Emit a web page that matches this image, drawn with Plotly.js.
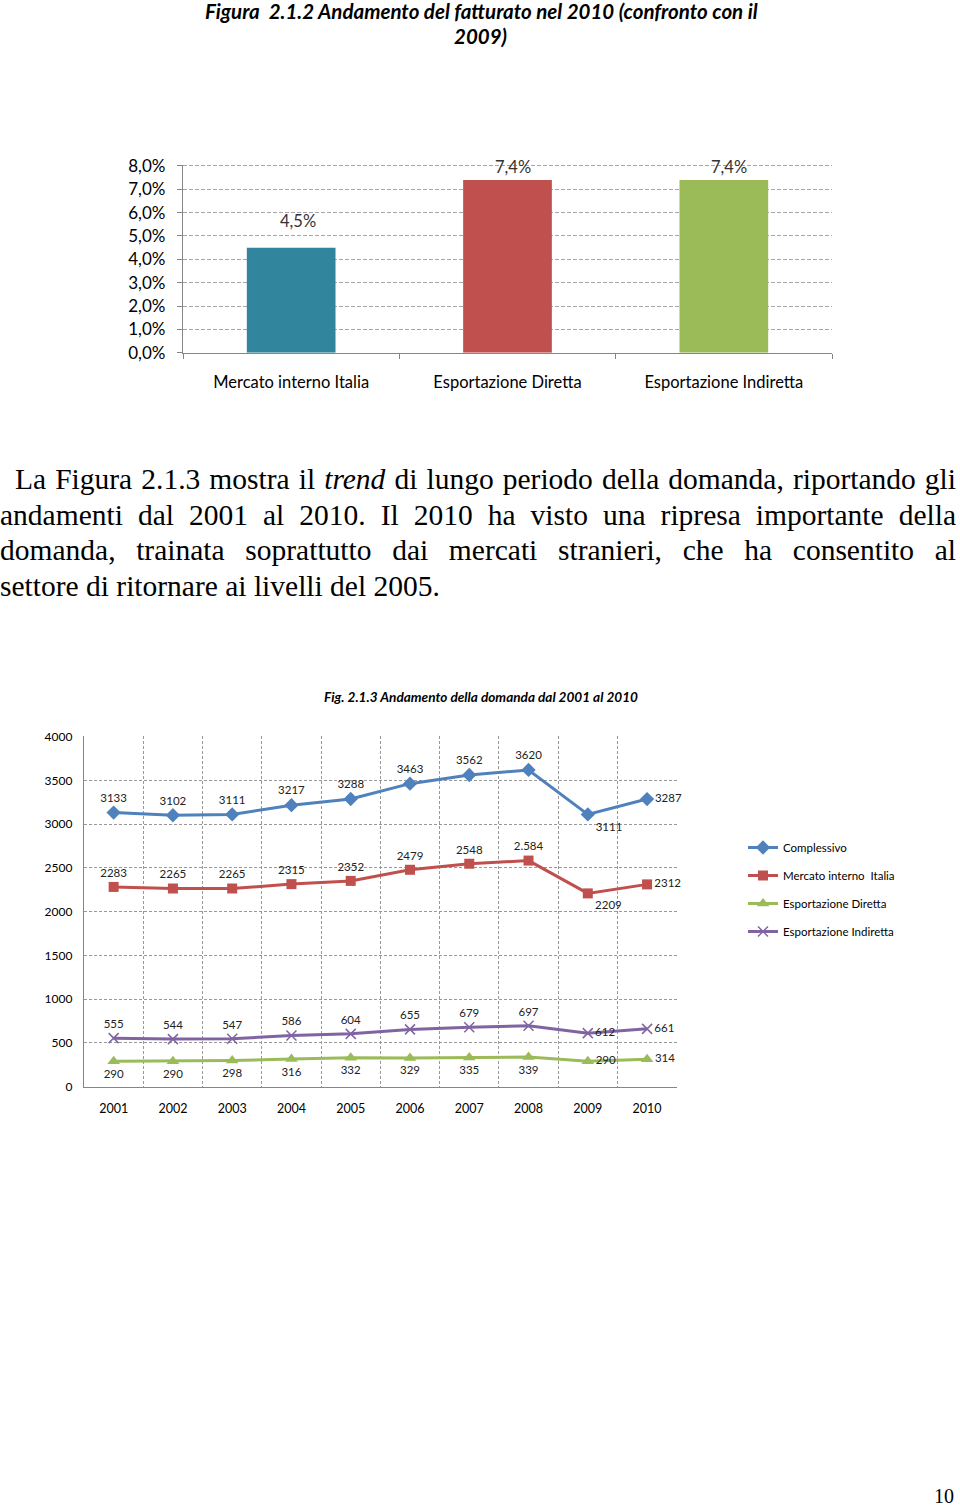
<!DOCTYPE html>
<html>
<head>
<meta charset="utf-8">
<script src="https://cdn.plot.ly/plotly-3.0.1.min.js"></script>
<style>
  html, body { margin: 0; padding: 0; background: #fff; }
  #page { position: relative; width: 960px; height: 1507px; overflow: hidden; }
  #chart { position: absolute; left: 0; top: 0; width: 960px; height: 1507px; }
  #para { position: absolute; left: 0; top: 462px; width: 956px; font-family: "Liberation Serif", serif; font-size: 29.5px; color: #000; }
  #para .ln { height: 35.5px; line-height: 35.5px; white-space: nowrap; }
  #para .ln span { display: inline-block; transform-origin: left center; }
</style>
</head>
<body>
<div id="page">
  <div id="chart"></div>
  <div id="para">
    <div class="ln" data-x="15" data-w="941" data-j="1"><span>La Figura 2.1.3 mostra il <i>trend</i> di lungo periodo della domanda, riportando gli</span></div>
    <div class="ln" data-x="0" data-w="956" data-j="1"><span>andamenti dal 2001 al 2010. Il 2010 ha visto una ripresa importante della</span></div>
    <div class="ln" data-x="0" data-w="956" data-j="1"><span>domanda, trainata soprattutto dai mercati stranieri, che ha consentito al</span></div>
    <div class="ln" data-x="0" data-w="956" data-j="0"><span>settore di ritornare ai livelli del 2005.</span></div>
  </div>
</div>
<script>
// ---------- data: bar chart (Figura 2.1.2) ----------
const barCategories = ['Mercato interno Italia', 'Esportazione Diretta', 'Esportazione Indiretta'];
const barValues = [0.045, 0.074, 0.074];

// ---------- data: line chart (Fig. 2.1.3) ----------
const years = ['2001', '2002', '2003', '2004', '2005', '2006', '2007', '2008', '2009', '2010'];
const complessivo = [3133, 3102, 3111, 3217, 3288, 3463, 3562, 3620, 3111, 3287];
const mercatoInterno = [2283, 2265, 2265, 2315, 2352, 2479, 2548, 2584, 2209, 2312];
const mercatoInternoText = ['2283', '2265', '2265', '2315', '2352', '2479', '2548', '2.584', '2209', '2312'];
const espDiretta = [290, 290, 298, 316, 332, 329, 335, 339, 290, 314];
const espIndiretta = [555, 544, 547, 586, 604, 655, 679, 697, 612, 661];
const seriesNames = ['Complessivo', 'Mercato interno  Italia', 'Esportazione Diretta', 'Esportazione Indiretta'];

// ---------- label placement (style, not data) ----------
const posTop = ['top center','top center','top center','top center','top center','top center','top center','top center','bottom right','middle right'];
const posTopR = ['top center','top center','top center','top center','top center','top center','top center','top center','middle right','middle right'];
const posBot = ['bottom center','bottom center','bottom center','bottom center','bottom center','bottom center','bottom center','bottom center','middle right','middle right'];
const barLabelShift = [15, 1, 1];
const barLabelXShift = [7, 5, 5];

const W = 960, H = 1507;
const fx = p => p / W;
const fy = p => 1 - p / H;

const FONT = 'Lato, "Open Sans", sans-serif';
const lblFont = { family: FONT, size: 11.5, color: '#222' };

const traces = [
  {
    type: 'bar', x: barCategories, y: barValues, xaxis: 'x', yaxis: 'y',
    marker: { color: ['#31859C', '#C0504D', '#9BBB59'] },
    showlegend: false, hoverinfo: 'skip'
  },
  {
    type: 'scatter', mode: 'lines+markers+text', name: seriesNames[0],
    x: years, y: complessivo, text: complessivo.map(String), xaxis: 'x2', yaxis: 'y2',
    line: { color: '#4F81BD', width: 3 }, marker: { symbol: 'diamond', size: 11, color: '#4F81BD' },
    textposition: posTop, textfont: lblFont, cliponaxis: false, legendgroup: 'a'
  },
  {
    type: 'scatter', mode: 'lines+markers+text', name: seriesNames[1],
    x: years, y: mercatoInterno, text: mercatoInternoText, xaxis: 'x2', yaxis: 'y2',
    line: { color: '#C0504D', width: 3 }, marker: { symbol: 'square', size: 10, color: '#C0504D' },
    textposition: posTop, textfont: lblFont, cliponaxis: false, legendgroup: 'b'
  },
  {
    type: 'scatter', mode: 'lines+markers+text', name: seriesNames[2],
    x: years, y: espDiretta, text: espDiretta.map(String), xaxis: 'x2', yaxis: 'y2',
    line: { color: '#9BBB59', width: 3 }, marker: { symbol: 'triangle-up', size: 11, color: '#9BBB59' },
    textposition: posBot, textfont: lblFont, cliponaxis: false, legendgroup: 'c'
  },
  {
    type: 'scatter', mode: 'lines+markers+text', name: seriesNames[3],
    x: years, y: espIndiretta, text: espIndiretta.map(String), xaxis: 'x2', yaxis: 'y2',
    line: { color: '#8064A2', width: 3 },
    marker: { symbol: 'x-thin-open', size: 10, color: '#8064A2', line: { color: '#8064A2', width: 1.5 } },
    textposition: posTopR, textfont: lblFont, cliponaxis: false, legendgroup: 'd'
  }
];

const barAnnotations = barCategories.map((c, i) => ({
  xref: 'x', yref: 'y', x: c, y: barValues[i], xanchor: 'center', yanchor: 'bottom',
  yshift: barLabelShift[i], xshift: barLabelXShift[i], showarrow: false,
  text: (barValues[i] * 100).toFixed(1).replace('.', ',') + '%',
  font: { family: FONT, size: 16.5, color: '#333' }
}));

const layout = {
  width: W, height: H,
  margin: { l: 0, r: 0, t: 0, b: 0 },
  paper_bgcolor: '#fff', plot_bgcolor: 'rgba(0,0,0,0)',
  separators: ',.',
  font: { family: FONT, color: '#000' },
  showlegend: true,
  bargap: 0.59,
  xaxis: {
    domain: [fx(183), fx(832)], anchor: 'y', type: 'category', range: [-0.5, 2.5],
    tickson: 'boundaries', ticks: 'outside', ticklen: 5, tickcolor: '#868686',
    showline: true, linecolor: '#868686', linewidth: 1.2, showgrid: false,
    tickfont: { family: FONT, size: 16.5, color: '#000' }, ticklabelstandoff: 14
  },
  yaxis: {
    domain: [fy(352.7), fy(164.8)], anchor: 'x', range: [0, 0.0805], tickvals: [0,0.01,0.02,0.03,0.04,0.05,0.06,0.07,0.08],
    tickformat: '.1%', showline: true, linecolor: '#868686', linewidth: 1.2,
    ticks: 'outside', ticklen: 5, tickcolor: '#868686',
    gridcolor: '#a6a6a6', griddash: '4px,2px', zeroline: false,
    tickfont: { family: FONT, size: 17, color: '#000' }, ticklabelstandoff: 8
  },
  xaxis2: {
    domain: [fx(84), fx(676.7)], anchor: 'y2', type: 'category', range: [-0.5, 9.5],
    tickson: 'boundaries', ticks: '', showline: true, linecolor: '#868686', linewidth: 1.2,
    showgrid: true, gridcolor: '#999', griddash: '3px,2px', gridwidth: 1,
    tickfont: { family: FONT, size: 12.5, color: '#000' }, ticklabelstandoff: 10
  },
  yaxis2: {
    domain: [fy(1086.7), fy(735.8)], anchor: 'x2', range: [0, 4010], tickvals: [0,500,1000,1500,2000,2500,3000,3500,4000],
    showline: true, linecolor: '#868686', linewidth: 1.2, ticks: '',
    gridcolor: '#999', griddash: '3px,2px', zeroline: false,
    tickfont: { family: FONT, size: 12, color: '#000' }, ticklabelstandoff: 8
  },
  legend: {
    x: fx(743), y: fy(833), xanchor: 'left', yanchor: 'top',
    font: { family: FONT, size: 11.5, color: '#000' },
    traceorder: 'grouped', tracegroupgap: 9, bgcolor: 'rgba(0,0,0,0)'
  },
  annotations: barAnnotations.concat([
    { xref: 'paper', yref: 'paper', x: fx(481), y: fy(11), xanchor: 'center', yanchor: 'middle', showarrow: false,
      text: '<b><i>Figura\u00a0 2.1.2 Andamento del fatturato nel 2010 (confronto con il</i></b>',
      font: { family: FONT, size: 20.5, color: '#000' } },
    { xref: 'paper', yref: 'paper', x: fx(480), y: fy(36), xanchor: 'center', yanchor: 'middle', showarrow: false,
      text: '<b><i>2009)</i></b>', font: { family: FONT, size: 20.5, color: '#000' } },
    { xref: 'paper', yref: 'paper', x: fx(481), y: fy(697), xanchor: 'center', yanchor: 'middle', showarrow: false,
      text: '<b><i>Fig. 2.1.3 Andamento della domanda dal 2001 al 2010</i></b>',
      font: { family: FONT, size: 13.6, color: '#000' } },
    { xref: 'paper', yref: 'paper', x: fx(956), y: fy(1496), xanchor: 'right', yanchor: 'middle', showarrow: false,
      text: '10', font: { family: '"Liberation Serif", serif', size: 20, color: '#000' } }
  ])
};

Plotly.newPlot('chart', traces, layout, { displayModeBar: false, staticPlot: true });

// justify paragraph lines to their measured widths
document.querySelectorAll('#para .ln').forEach(ln => {
  const span = ln.querySelector('span');
  const x0 = +ln.dataset.x, w = +ln.dataset.w;
  ln.style.paddingLeft = x0 + 'px';
  if (ln.dataset.j === '1') {
    const nat = span.getBoundingClientRect().width;
    const spaces = (span.textContent.match(/ /g) || []).length;
    let extra = (w - nat) / spaces;
    if (extra < -3) {
      span.style.transform = 'scaleX(' + (w / nat) + ')';
    } else {
      span.style.wordSpacing = extra + 'px';
    }
  }
});
</script>
</body>
</html>
